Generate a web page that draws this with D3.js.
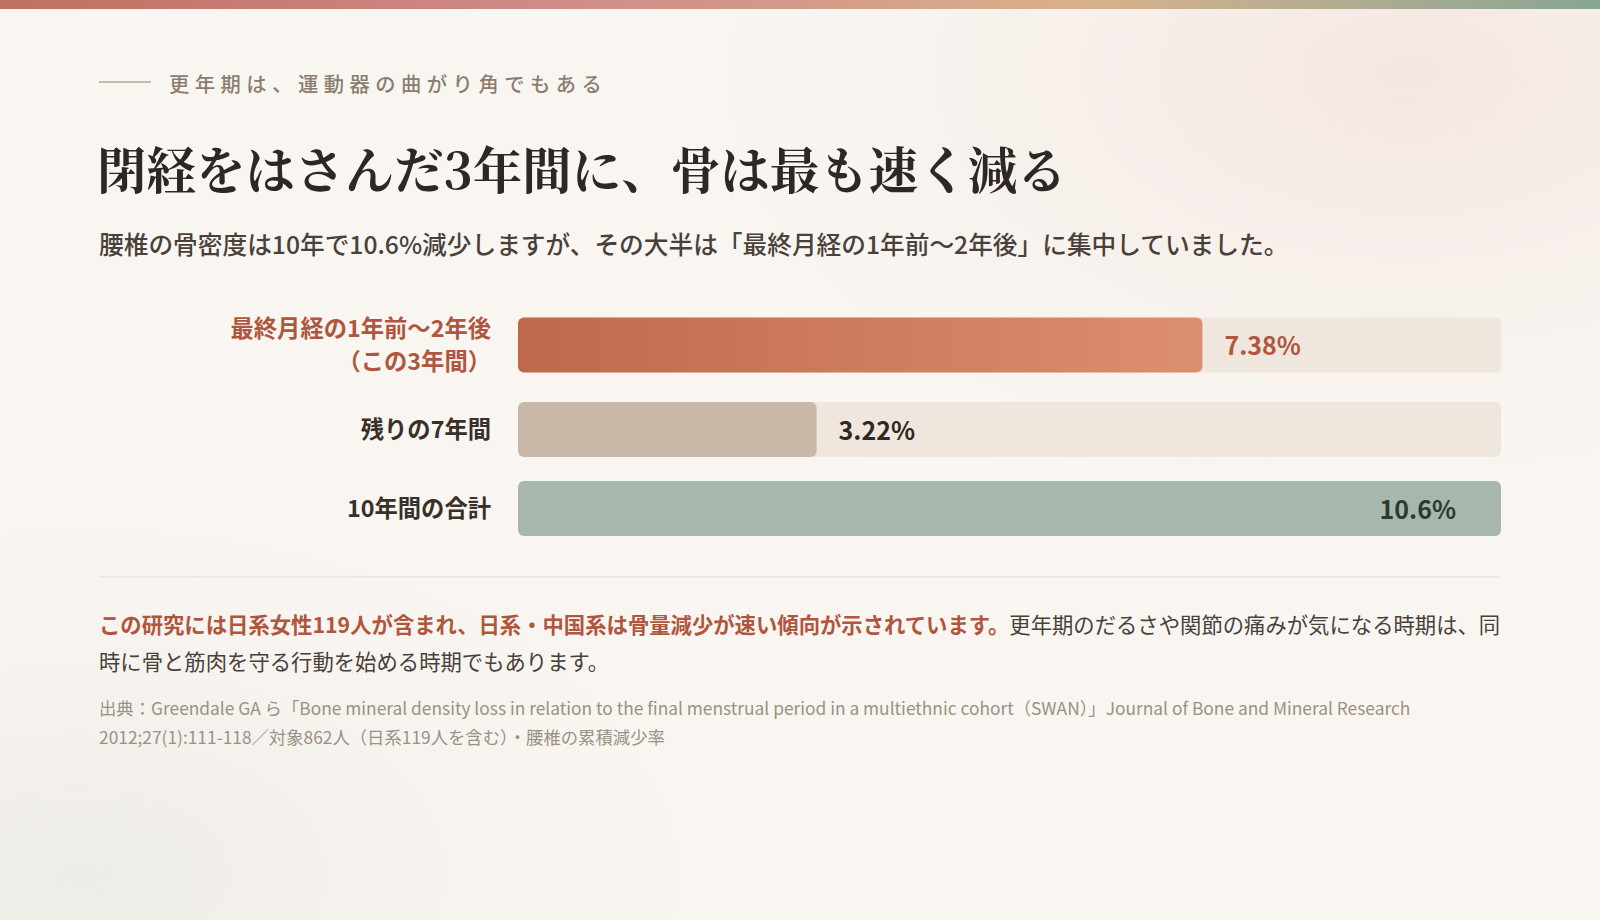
<!DOCTYPE html>
<html lang="ja">
<head>
<meta charset="utf-8">
<script src="https://cdn.jsdelivr.net/npm/d3@7"></script>
<style>
  html, body { margin: 0; padding: 0; width: 1600px; height: 920px; overflow: hidden; background: #f8f5f0; }
  svg { display: block; }
  .sans { font-family: "Noto Sans CJK JP", "Noto Sans", sans-serif; }
  .serif { font-family: "Noto Serif CJK JP", "Noto Serif JP", "DejaVu Serif", serif; }
</style>
</head>
<body>
<svg id="chart" width="1600" height="920"></svg>
<script>
// ---- data ----
const categories = ["最終月経の1年前〜2年後（この3年間）", "残りの7年間", "10年間の合計"];
const labelLines = [["最終月経の1年前〜2年後", "（この3年間）"], ["残りの7年間"], ["10年間の合計"]];
const values = [7.38, 3.22, 10.6];
const valueLabels = ["7.38%", "3.22%", "10.6%"];
const domainMax = 10.6;

const eyebrow = "更年期は、運動器の曲がり角でもある";
const title = "閉経をはさんだ3年間に、骨は最も速く減る";
const subtitle = "腰椎の骨密度は10年で10.6%減少しますが、その大半は「最終月経の1年前〜2年後」に集中していました。";
const noteBold = "この研究には日系女性119人が含まれ、日系・中国系は骨量減少が速い傾向が示されています。";
const noteRest1 = "更年期のだるさや関節の痛みが気になる時期は、同";
const noteLine2 = "時に骨と筋肉を守る行動を始める時期でもあります。";
const sourceLines = [
  "出典：Greendale GA ら「Bone mineral density loss in relation to the final menstrual period in a multiethnic cohort（SWAN）」Journal of Bone and Mineral Research",
  "2012;27(1):111-118／対象862人（日系119人を含む）・腰椎の累積減少率"
];

// ---- drawing ----
const svg = d3.select("#chart");
const defs = svg.append("defs");

// background
const bg1 = defs.append("radialGradient").attr("id", "bgPink").attr("cx", "88%").attr("cy", "8%").attr("r", "55%");
bg1.append("stop").attr("offset", "0%").attr("stop-color", "#f4e6e2");
bg1.append("stop").attr("offset", "100%").attr("stop-color", "#f8f5f0").attr("stop-opacity", 0);
const bg2 = defs.append("radialGradient").attr("id", "bgGrey").attr("cx", "5%").attr("cy", "95%").attr("r", "45%");
bg2.append("stop").attr("offset", "0%").attr("stop-color", "#eeece6");
bg2.append("stop").attr("offset", "100%").attr("stop-color", "#f8f5f0").attr("stop-opacity", 0);
svg.append("rect").attr("width", 1600).attr("height", 920).attr("fill", "#f9f6f1");
svg.append("rect").attr("width", 1600).attr("height", 920).attr("fill", "url(#bgPink)");
svg.append("rect").attr("width", 1600).attr("height", 920).attr("fill", "url(#bgGrey)");

// top band
const tb = defs.append("linearGradient").attr("id", "topBand");
[["0%", "#c0705e"], ["33%", "#cf8a88"], ["50%", "#d49a88"], ["68%", "#d9b28c"], ["100%", "#88a694"]]
  .forEach(([o, c]) => tb.append("stop").attr("offset", o).attr("stop-color", c));
svg.append("rect").attr("x", 0).attr("y", 0).attr("width", 1600).attr("height", 9).attr("fill", "url(#topBand)");

// eyebrow
svg.append("line").attr("x1", 99).attr("x2", 151).attr("y1", 82).attr("y2", 82)
  .attr("stroke", "#b9a898").attr("stroke-width", 1.5);
svg.append("text").attr("class", "sans").attr("x", 169).attr("y", 83)
  .attr("dominant-baseline", "central").attr("font-size", 20.3).attr("letter-spacing", "5.5px")
  .attr("fill", "#8c7d70").attr("font-weight", 500).text(eyebrow);

// title
svg.append("text").attr("class", "serif").attr("x", 97).attr("y", 189)
  .attr("font-size", 49.5).attr("font-weight", 700).attr("fill", "#2e2723").text(title);

// subtitle
svg.append("text").attr("class", "sans").attr("x", 99).attr("y", 243)
  .attr("dominant-baseline", "central").attr("font-size", 24.7).attr("font-weight", 500)
  .attr("fill", "#4a403a").text(subtitle);

// bars
const x = d3.scaleLinear().domain([0, domainMax]).range([518, 1501]);
const barH = 55, lineH = 33, gap = 24;
let yTop = 312;
const rows = categories.map((c, i) => {
  const h = Math.max(barH, labelLines[i].length * lineH);
  const r = { i, top: yTop, cy: yTop + h / 2 };
  yTop += h + gap;
  return r;
});

const g1 = defs.append("linearGradient").attr("id", "bar1Grad");
g1.append("stop").attr("offset", "0%").attr("stop-color", "#bf684c");
g1.append("stop").attr("offset", "100%").attr("stop-color", "#dc8f70");

const fills = ["url(#bar1Grad)", "#c9b8a8", "#a8b7ac"];
const labelColors = ["#b0563e", "#3a302b", "#3a302b"];
const valueColors = ["#b0563e", "#2f2824", "#2c3a2f"];

const rowG = svg.selectAll("g.row").data(rows).join("g").attr("class", "row");
rowG.append("rect").attr("x", x(0)).attr("y", d => d.cy - barH / 2)
  .attr("width", x(domainMax) - x(0)).attr("height", barH).attr("rx", 6).attr("fill", "#efe6de");
rowG.append("rect").attr("x", x(0)).attr("y", d => d.cy - barH / 2)
  .attr("width", d => x(values[d.i]) - x(0)).attr("height", barH).attr("rx", 6)
  .attr("fill", d => fills[d.i]);
rowG.each(function (d) {
  const g = d3.select(this);
  const lines = labelLines[d.i];
  lines.forEach((ln, k) => {
    g.append("text").attr("class", "sans").attr("x", 491)
      .attr("y", d.cy - 2 + (k - (lines.length - 1) / 2) * lineH)
      .attr("dominant-baseline", "central").attr("text-anchor", "end")
      .attr("font-size", 23.3).attr("font-weight", 700).attr("fill", labelColors[d.i]).text(ln);
  });
  const inside = values[d.i] >= domainMax;
  g.append("text").attr("class", "sans")
    .attr("x", inside ? x(values[d.i]) - 45 : x(values[d.i]) + 22)
    .attr("y", d.cy - 1).attr("dominant-baseline", "central")
    .attr("text-anchor", inside ? "end" : "start")
    .attr("font-size", 25).attr("font-weight", 700).attr("fill", valueColors[d.i]).text(valueLabels[d.i]);
});

// divider
svg.append("line").attr("x1", 99).attr("x2", 1501).attr("y1", 577).attr("y2", 577)
  .attr("stroke", "#e3d9d0").attr("stroke-width", 1.2);

// note
const note = svg.append("text").attr("class", "sans").attr("x", 99).attr("y", 623)
  .attr("dominant-baseline", "central").attr("font-size", 21.35);
note.append("tspan").attr("font-weight", 700).attr("fill", "#b0563e").text(noteBold);
note.append("tspan").attr("fill", "#4a403a").text(noteRest1);
svg.append("text").attr("class", "sans").attr("x", 99).attr("y", 660)
  .attr("dominant-baseline", "central").attr("font-size", 21.35).attr("fill", "#4a403a").text(noteLine2);

// source
sourceLines.forEach((s, k) => {
  svg.append("text").attr("class", "sans").attr("x", 99).attr("y", 707 + k * 29)
    .attr("dominant-baseline", "central").attr("font-size", 17.35).attr("fill", "#9c9084").text(s);
});
</script>
</body>
</html>
